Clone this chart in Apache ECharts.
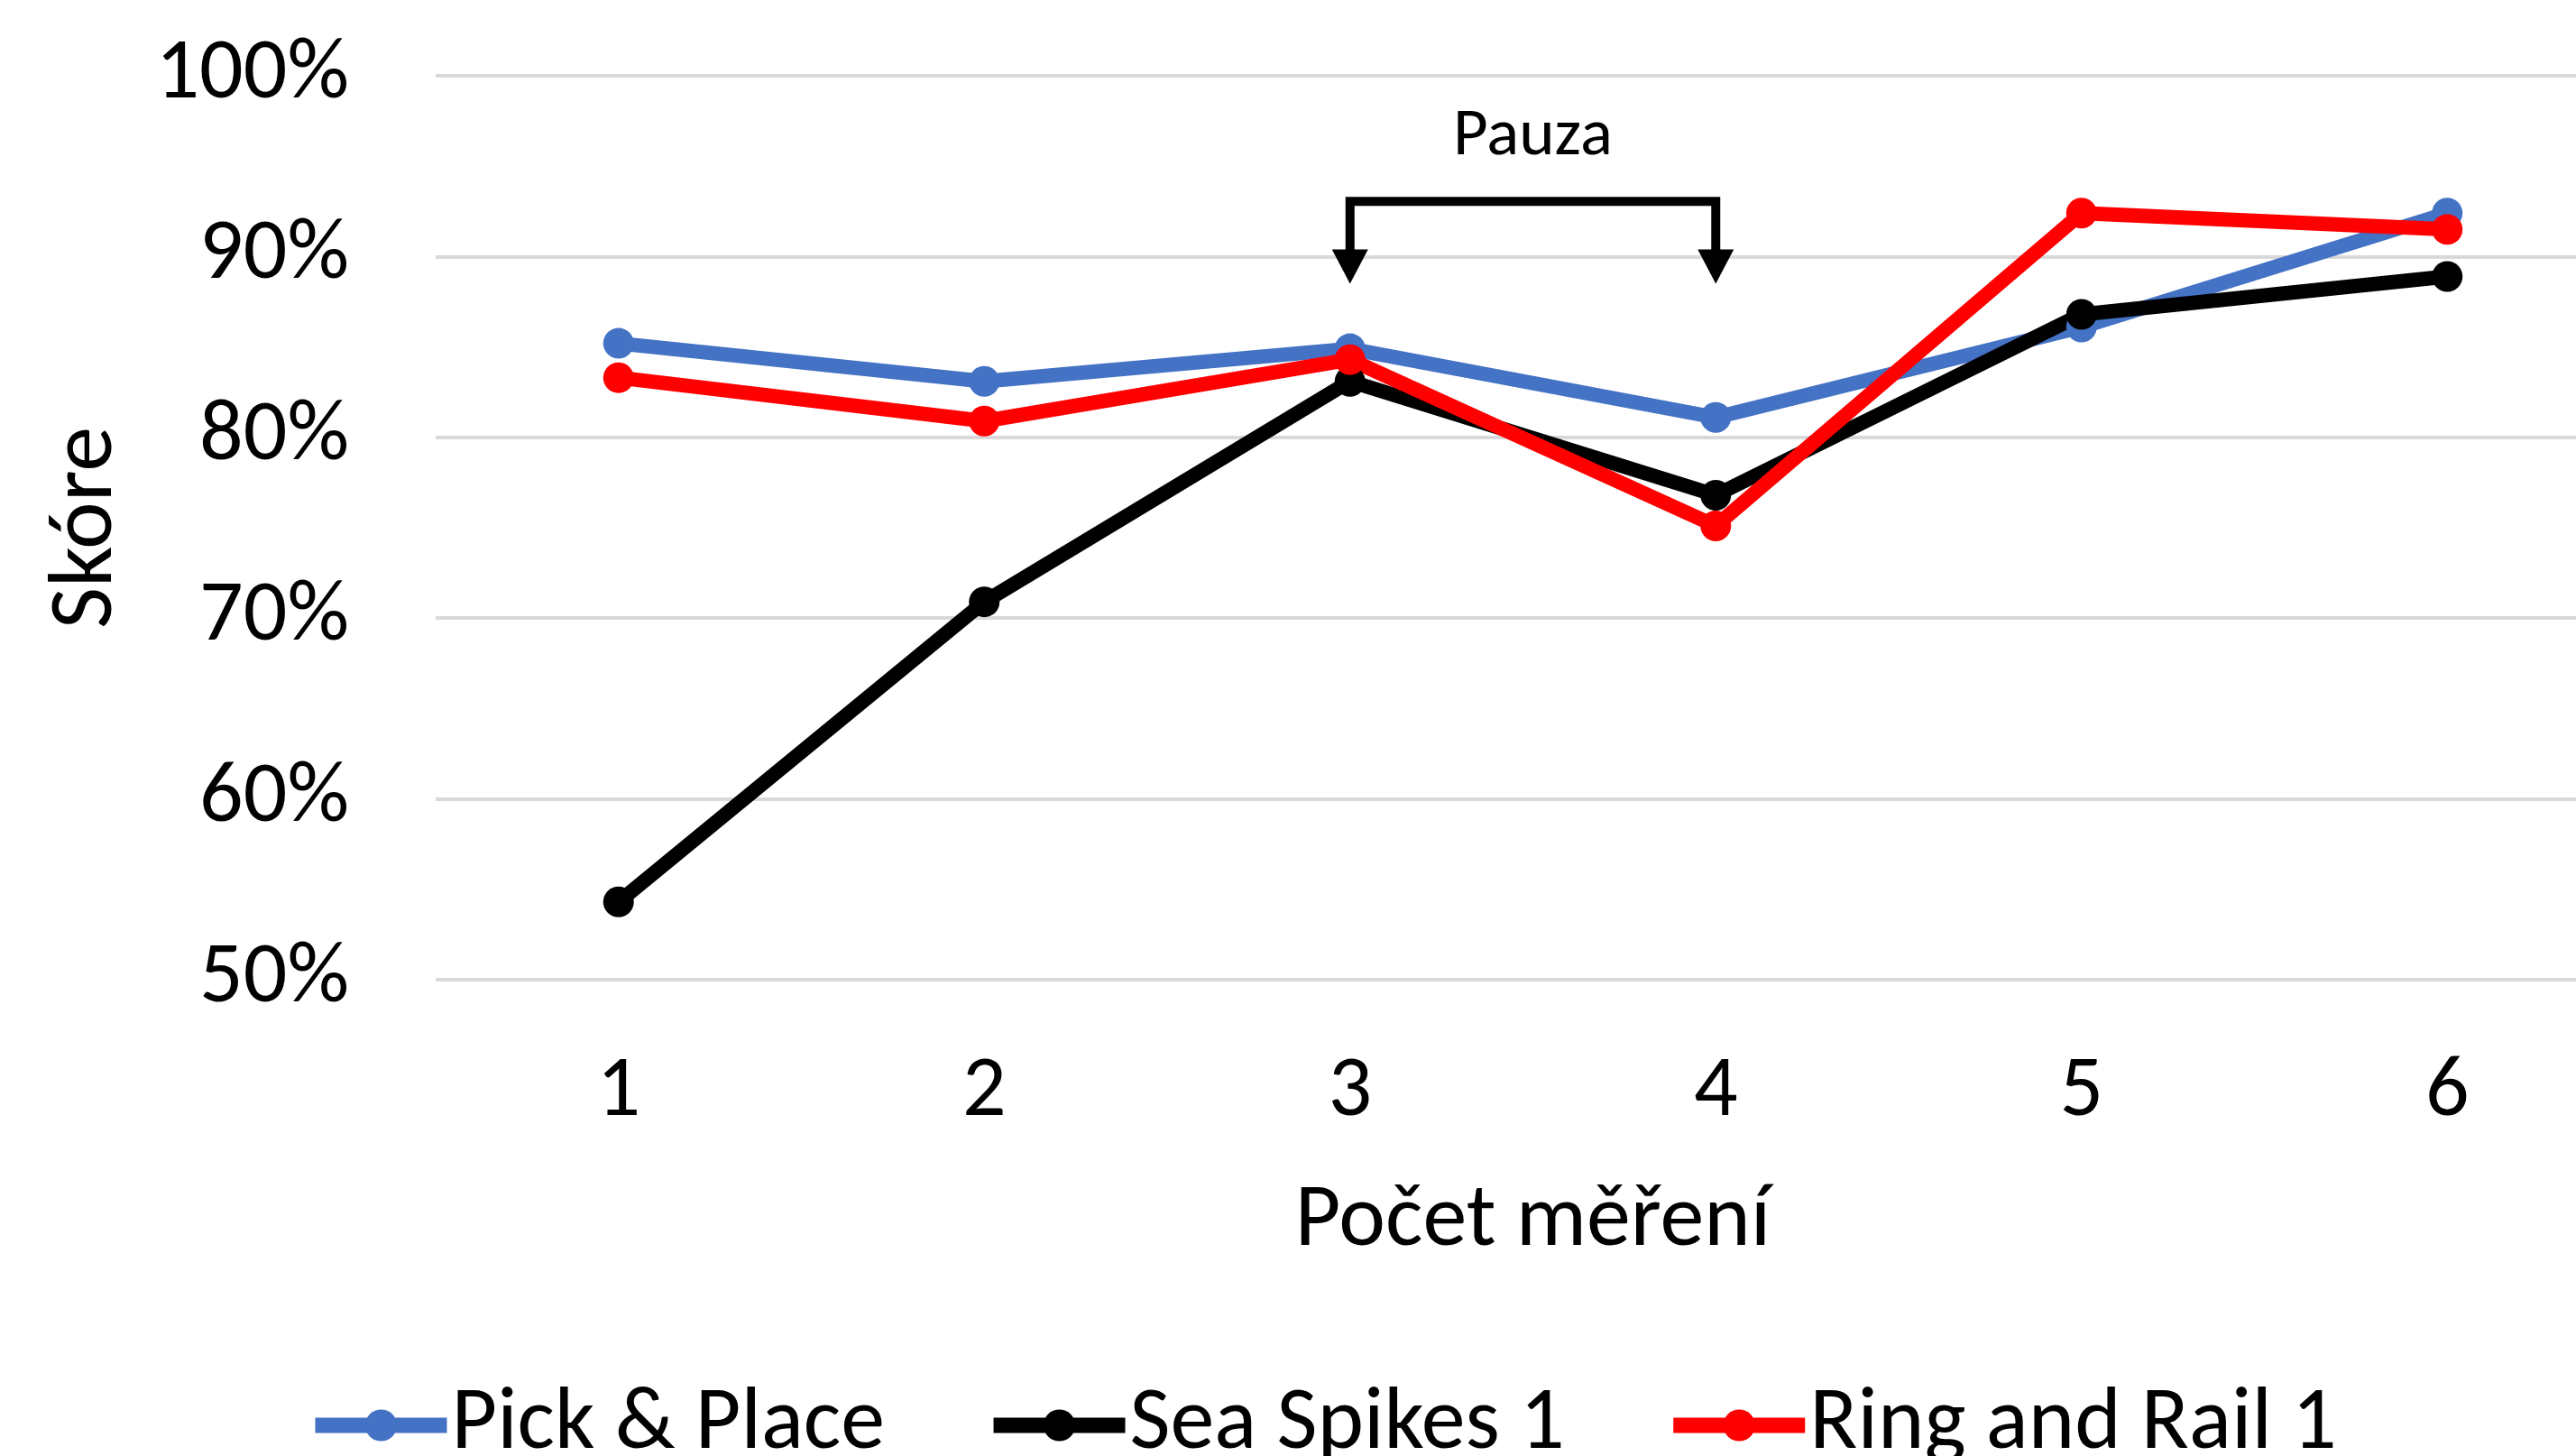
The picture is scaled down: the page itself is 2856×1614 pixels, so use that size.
<!DOCTYPE html>
<html>
<head>
<meta charset="utf-8">
<script src="https://cdn.jsdelivr.net/npm/echarts@6/dist/echarts.min.js"></script>
<style>
  html, body { margin: 0; padding: 0; background: #fff; }
  #chart { width: 2856px; height: 1614px; }
</style>
</head>
<body>
<div id="chart"></div>
<script>
// osa x - počet měření
var categories = ["1", "2", "3", "4", "5", "6"];
// skóre v %
var pickPlace = [85.2, 83.1, 84.9, 81.1, 86.1, 92.4];
var seaSpikes = [54.3, 70.9, 83.1, 76.8, 86.8, 88.9];
var ringRail = [83.3, 80.9, 84.3, 75.1, 92.4, 91.5];
var yTicks = [50, 60, 70, 80, 90, 100];
// pauza mezi měřením 3 a 4
var pauseFrom = "3";
var pauseTo = "4";
var pauseLabel = "Pauza";

var font = "Carlito, Calibri, Lato, sans-serif";
var myChart = echarts.init(document.getElementById("chart"));

function lineSeries(name, data, color) {
  return {
    name: name,
    type: "line",
    data: data,
    symbol: "circle",
    symbolSize: 34,
    itemStyle: { color: color },
    lineStyle: { color: color, width: 16 },
    animation: false
  };
}

var option = {
  backgroundColor: "#fff",
  animation: false,
  textStyle: { fontFamily: font, color: "#000" },
  // plocha grafu přesahuje pravý okraj obrázku
  grid: { left: 483, width: 2433, top: 84, bottom: 528, outerBoundsMode: "none" },
  legend: {
    data: ["Pick & Place", "Sea Spikes 1", "Ring and Rail 1"],
    left: 336,
    top: 1526,
    itemWidth: 146,
    itemHeight: 44,
    itemGap: 112,
    lineStyle: { width: 17 },
    textStyle: { fontFamily: font, fontSize: 98, color: "#000" }
  },
  xAxis: {
    type: "category",
    data: categories,
    boundaryGap: true,
    axisLine: { show: false },
    axisTick: { show: false },
    axisLabel: { fontSize: 96, color: "#000", margin: 78, fontFamily: font },
    name: "Počet měření",
    nameLocation: "middle",
    nameGap: 220,
    nameTextStyle: { fontSize: 98, color: "#000", fontFamily: font }
  },
  yAxis: {
    type: "value",
    min: yTicks[0],
    max: yTicks[yTicks.length - 1],
    interval: 10,
    axisLine: { show: false },
    axisTick: { show: false },
    axisLabel: { fontSize: 96, color: "#000", margin: 96, formatter: "{value}%", fontFamily: font },
    splitLine: { lineStyle: { color: "#d9d9d9", width: 4 } },
    name: "Skóre",
    nameLocation: "middle",
    nameGap: 335,
    nameTextStyle: { fontSize: 100, color: "#000", fontFamily: font }
  },
  series: [
    lineSeries("Pick & Place", pickPlace, "#4472c4"),
    lineSeries("Sea Spikes 1", seaSpikes, "#000000"),
    lineSeries("Ring and Rail 1", ringRail, "#ff0000"),
    {
      // závorka se šipkami "Pauza"
      type: "custom",
      name: "pauza",
      silent: true,
      z: 5,
      data: [[categories.indexOf(pauseFrom), categories.indexOf(pauseTo)]],
      renderItem: function (params, api) {
        var i0 = api.value(0);
        var i1 = api.value(1);
        var top0 = api.coord([i0, 93.05]);
        var top1 = api.coord([i1, 93.05]);
        var tip0 = api.coord([i0, 88.5]);
        var tip1 = api.coord([i1, 88.5]);
        var textPos = api.coord([i0, 96.6]);
        var midX = (top0[0] + top1[0]) / 2;
        var head = 38, half = 20;
        var stroke = { stroke: "#000", lineWidth: 10, fill: null, lineJoin: "miter" };
        return {
          type: "group",
          children: [
            {
              type: "polyline",
              shape: { points: [[top0[0], tip0[1] - head + 2], [top0[0], top0[1]], [top1[0], top1[1]], [top1[0], tip1[1] - head + 2]] },
              style: stroke
            },
            {
              type: "polygon",
              shape: { points: [[tip0[0] - half, tip0[1] - head], [tip0[0] + half, tip0[1] - head], [tip0[0], tip0[1]]] },
              style: { fill: "#000" }
            },
            {
              type: "polygon",
              shape: { points: [[tip1[0] - half, tip1[1] - head], [tip1[0] + half, tip1[1] - head], [tip1[0], tip1[1]]] },
              style: { fill: "#000" }
            },
            {
              type: "text",
              x: midX,
              y: textPos[1],
              style: {
                text: pauseLabel,
                fontSize: 75,
                fontFamily: font,
                fill: "#000",
                align: "center",
                verticalAlign: "middle"
              }
            }
          ]
        };
      }
    }
  ]
};
myChart.setOption(option);
</script>
</body>
</html>
